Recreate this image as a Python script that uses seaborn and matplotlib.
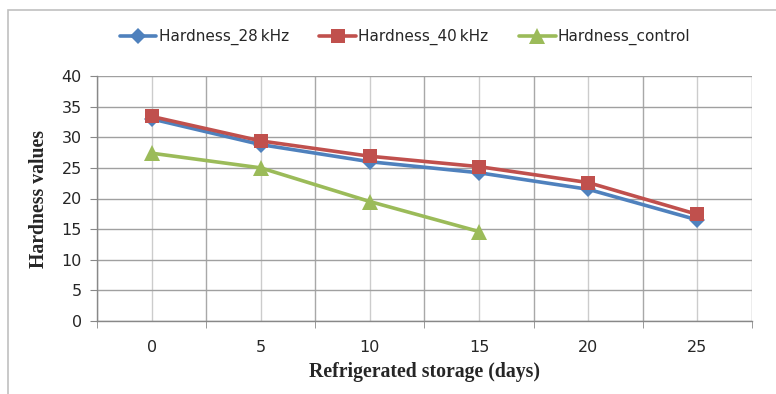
import matplotlib
matplotlib.use("Agg")
import matplotlib.pyplot as plt
from matplotlib.patches import Rectangle
from matplotlib.ticker import FixedLocator
import seaborn as sns
import pandas as pd

days = [0, 5, 10, 15, 20, 25]
hardness_28khz = [33.0, 28.8, 26.0, 24.2, 21.5, 16.5]
hardness_40khz = [33.4, 29.4, 26.9, 25.2, 22.6, 17.4]
control_days = [0, 5, 10, 15]
hardness_control = [27.4, 25.0, 19.5, 14.6]
series_names = ["Hardness_28\u2009kHz", "Hardness_40\u2009kHz", "Hardness_control"]
y_ticks = [0, 5, 10, 15, 20, 25, 30, 35, 40]

rows = []
for d, v in zip(days, hardness_28khz):
    rows.append((d, v, series_names[0]))
for d, v in zip(days, hardness_40khz):
    rows.append((d, v, series_names[1]))
for d, v in zip(control_days, hardness_control):
    rows.append((d, v, series_names[2]))
df = pd.DataFrame(rows, columns=["day", "value", "series"])

sns.set_style("white")
narrow = ["Liberation Sans Narrow", "DejaVu Sans"]
serif = ["Liberation Serif", "DejaVu Serif"]

fig = plt.figure(figsize=(7.76, 3.94), dpi=100)
ax = fig.add_axes([97 / 776, 1 - 321 / 394, (752 - 97) / 776, (321 - 76) / 394])

palette = {series_names[0]: "#4F81BD", series_names[1]: "#C0504D", series_names[2]: "#9BBB59"}
markers = {series_names[0]: "D", series_names[1]: "s", series_names[2]: "^"}
sizes = {series_names[0]: 8, series_names[1]: 10, series_names[2]: 11}

for name in series_names:
    sub = df[df["series"] == name]
    sns.lineplot(data=sub, x="day", y="value", ax=ax, color=palette[name],
                 marker=markers[name], markersize=sizes[name], markeredgewidth=0,
                 linewidth=2.6, label=name, zorder=3)

ax.set_xlim(-2.5, 27.5)
ax.set_ylim(0, 40)
ax.xaxis.set_major_locator(FixedLocator(days))
ax.xaxis.set_minor_locator(FixedLocator([d - 2.5 for d in days] + [27.5]))
ax.yaxis.set_major_locator(FixedLocator(y_ticks))
ax.set_xticklabels([str(d) for d in days])
ax.grid(True, which="major", axis="x", color="#cccccc", linewidth=1.0, zorder=0)
ax.grid(True, which="minor", axis="x", color="#a8a8a8", linewidth=1.0, zorder=0)
ax.grid(True, which="major", axis="y", color="#a0a0a0", linewidth=1.0, zorder=0)
ax.set_axisbelow(True)

ax.tick_params(axis="x", which="major", length=0, pad=14, labelsize=11.5)
ax.tick_params(axis="x", which="minor", length=5, direction="out", color="#888888")
ax.tick_params(axis="y", which="major", length=5, direction="out", color="#888888", labelsize=11.5, pad=6)
ax.xaxis.set_tick_params(which="both", bottom=True)
ax.yaxis.set_tick_params(left=True)
for lab in ax.get_xticklabels() + ax.get_yticklabels():
    lab.set_family(narrow)

for s in ["top", "right"]:
    ax.spines[s].set_visible(False)
for s in ["left", "bottom"]:
    ax.spines[s].set_color("#888888")
    ax.spines[s].set_linewidth(1.0)

ax.set_xlabel("Refrigerated storage (days)", family=serif, fontweight="bold", fontsize=14.2, labelpad=5)
ax.set_ylabel("Hardness values", family=serif, fontweight="bold", fontsize=14.2, labelpad=9)

leg = ax.legend(loc="center", bbox_to_anchor=(405 / 776, 1 - 37 / 394), bbox_transform=fig.transFigure,
                ncol=3, frameon=False, prop={"family": narrow, "size": 11},
                handlelength=2.4, handletextpad=0.15, columnspacing=2.0)

fig.patches.append(Rectangle((8 / 776, -0.1), 1.2, 1 - 10 / 394 + 0.1, transform=fig.transFigure,
                             fill=False, edgecolor="#c0c0c0", linewidth=1.2))

fig.savefig("out.png", dpi=100)
